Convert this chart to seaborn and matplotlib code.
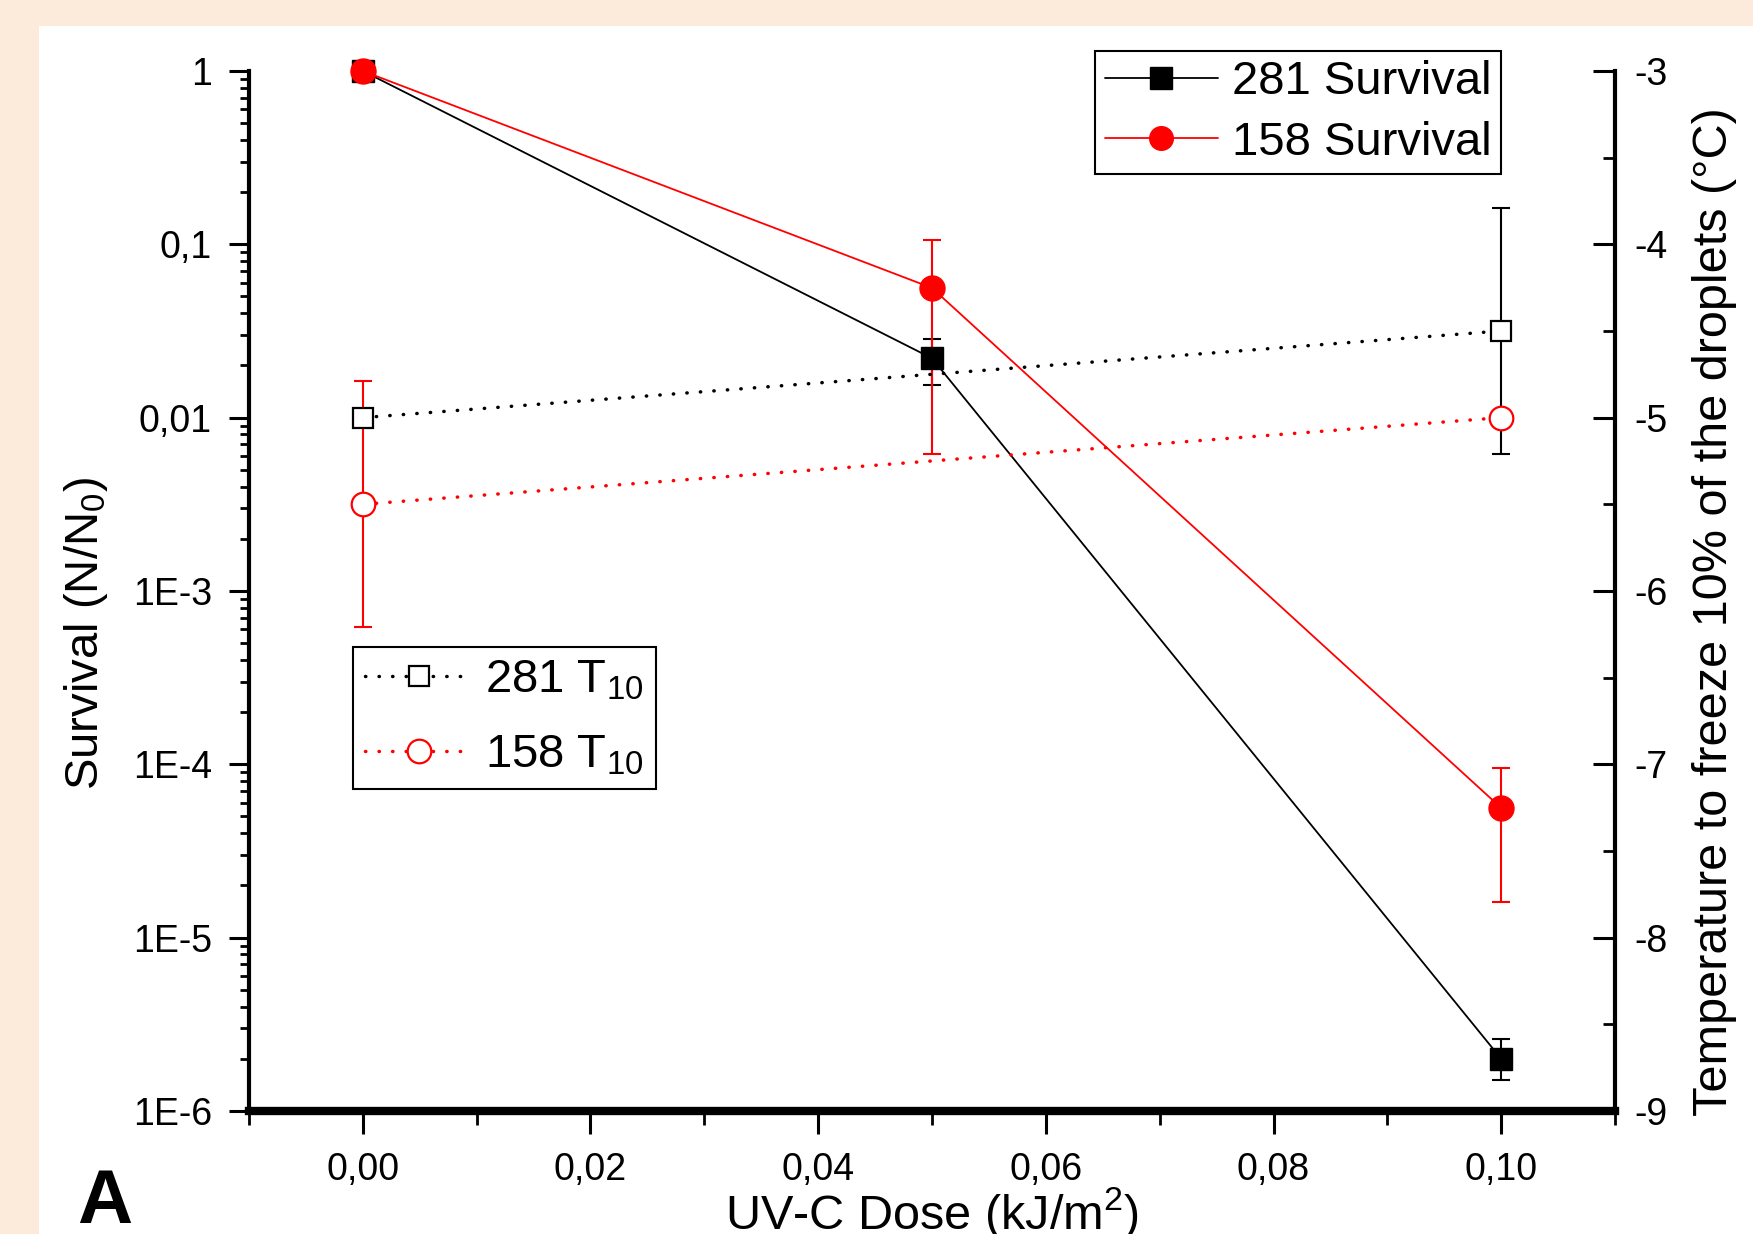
import numpy as np
import matplotlib
matplotlib.use("Agg")
import matplotlib.pyplot as plt
import seaborn as sns
from matplotlib.ticker import FixedLocator, FixedFormatter, LogLocator, NullFormatter, MultipleLocator
from matplotlib.lines import Line2D
from matplotlib.patches import Rectangle

# ---------------- data ----------------
dose = [0.0, 0.05, 0.10]
surv_281 = [1.0, 0.022, 2.0e-6]
surv_281_low = [1.0, 0.0155, 1.5e-6]
surv_281_high = [1.0, 0.0286, 2.6e-6]
surv_158 = [1.0, 0.056, 5.6e-5]
surv_158_low = [1.0, 0.0062, 1.6e-5]
surv_158_high = [1.0, 0.106, 9.5e-5]

t10_dose = [0.0, 0.10]
t10_281 = [-5.0, -4.5]
t10_281_err = [0.0, 0.71]
t10_158 = [-5.5, -5.0]
t10_158_err = [0.71, 0.0]

x_ticks = [0.00, 0.02, 0.04, 0.06, 0.08, 0.10]
x_tick_labels = ["0,00", "0,02", "0,04", "0,06", "0,08", "0,10"]
y_ticks = [1, 0.1, 0.01, 1e-3, 1e-4, 1e-5, 1e-6]
y_tick_labels = ["1", "0,1", "0,01", "1E-3", "1E-4", "1E-5", "1E-6"]
y2_ticks = [-3, -4, -5, -6, -7, -8, -9]
y2_tick_labels = ["-3", "-4", "-5", "-6", "-7", "-8", "-9"]

legend1_labels = ["281 Survival", "158 Survival"]
legend2_labels = ["281 T$_{10}$", "158 T$_{10}$"]

PEACH = "#FCEADA"
RED = "#FF0000"

# ---------------- style ----------------
sns.set_style("ticks")
plt.rcParams["font.family"] = ["Liberation Sans", "DejaVu Sans"]
plt.rcParams["mathtext.fontset"] = "custom"
plt.rcParams["mathtext.rm"] = "Liberation Sans"
plt.rcParams["mathtext.it"] = "Liberation Sans:italic"
plt.rcParams["axes.unicode_minus"] = False
plt.rcParams["text.color"] = "black"
plt.rcParams["axes.edgecolor"] = "black"
plt.rcParams["xtick.color"] = "black"
plt.rcParams["ytick.color"] = "black"
plt.rcParams["axes.labelcolor"] = "black"

fig = plt.figure(figsize=(17.53, 12.34), dpi=100, facecolor=PEACH)
fig.add_artist(Rectangle((0.0222, 0.0), 1.0, 0.979, transform=fig.transFigure,
                         facecolor="white", edgecolor="none", zorder=-10))

ax = fig.add_axes([0.1420, 0.0997, 0.9213 - 0.1420, 0.9425 - 0.0997])
ax.set_facecolor("white")

# ---- survival lines (left log axis) ----
sns.lineplot(x=dose, y=surv_281, ax=ax, color="black", marker="s", markersize=16,
             markerfacecolor="black", markeredgecolor="black", markeredgewidth=1,
             linewidth=1.3, legend=False, clip_on=False, zorder=3)
err_lo = np.subtract(surv_281, surv_281_low)
err_hi = np.subtract(surv_281_high, surv_281)
idx = [i for i in range(len(dose)) if err_lo[i] > 0 or err_hi[i] > 0]
ax.errorbar([dose[i] for i in idx], [surv_281[i] for i in idx],
            yerr=[[err_lo[i] for i in idx], [err_hi[i] for i in idx]],
            fmt="none", ecolor="black", elinewidth=1.5, capsize=6.8, capthick=1.5, zorder=2)

sns.lineplot(x=dose, y=surv_158, ax=ax, color=RED, marker="o", markersize=18,
             markerfacecolor=RED, markeredgecolor=RED, markeredgewidth=1,
             linewidth=1.3, legend=False, clip_on=False, zorder=4)
err_lo = np.subtract(surv_158, surv_158_low)
err_hi = np.subtract(surv_158_high, surv_158)
idx = [i for i in range(len(dose)) if err_lo[i] > 0 or err_hi[i] > 0]
ax.errorbar([dose[i] for i in idx], [surv_158[i] for i in idx],
            yerr=[[err_lo[i] for i in idx], [err_hi[i] for i in idx]],
            fmt="none", ecolor=RED, elinewidth=1.5, capsize=6.8, capthick=1.5, zorder=2)

ax.set_yscale("log")
ax.set_ylim(1e-6, 1)
ax.set_xlim(-0.01, 0.11)
ax.yaxis.set_major_locator(FixedLocator(y_ticks))
ax.yaxis.set_major_formatter(FixedFormatter(y_tick_labels))
ax.yaxis.set_minor_locator(LogLocator(base=10, subs=np.arange(2, 10)))
ax.yaxis.set_minor_formatter(NullFormatter())
ax.xaxis.set_major_locator(FixedLocator(x_ticks))
ax.xaxis.set_major_formatter(FixedFormatter(x_tick_labels))
ax.xaxis.set_minor_locator(MultipleLocator(0.01))

ax.tick_params(axis="y", which="major", direction="out", length=14.5, width=2.2,
               labelsize=27, pad=12)
ax.tick_params(axis="y", which="minor", direction="out", length=6.5, width=2.0)
ax.tick_params(axis="x", which="major", direction="out", length=16.5, width=2.2,
               labelsize=27, pad=13)
ax.tick_params(axis="x", which="minor", direction="out", length=10, width=2.0)

for s in ["top", "right"]:
    ax.spines[s].set_visible(False)
ax.spines["bottom"].set_linewidth(6)
ax.spines["left"].set_linewidth(3)

ax.set_xlabel("UV-C Dose (kJ/m$^2$)", fontsize=35)
ax.xaxis.set_label_coords(0.5, -0.0712)
ax.set_ylabel("Survival (N/N$_0$)", fontsize=34)
ax.yaxis.set_label_coords(-0.1018, 0.4587)

# ---- T10 (right linear axis) ----
ax2 = ax.twinx()
dot_style = (0, (0.1, 3.8))
sns.lineplot(x=t10_dose, y=t10_281, ax=ax2, color="black", marker="s", markersize=15,
             markerfacecolor="white", markeredgecolor="black", markeredgewidth=1.6,
             linewidth=2.5, linestyle=dot_style, dash_capstyle="round",
             legend=False, clip_on=False, zorder=3)
idx = [i for i in range(len(t10_dose)) if t10_281_err[i] > 0]
ax2.errorbar([t10_dose[i] for i in idx], [t10_281[i] for i in idx],
             yerr=[t10_281_err[i] for i in idx],
             fmt="none", ecolor="black", elinewidth=1.5, capsize=6.8, capthick=1.5, zorder=2)

sns.lineplot(x=t10_dose, y=t10_158, ax=ax2, color=RED, marker="o", markersize=17,
             markerfacecolor="white", markeredgecolor=RED, markeredgewidth=1.6,
             linewidth=2.5, linestyle=dot_style, dash_capstyle="round",
             legend=False, clip_on=False, zorder=3)
idx = [i for i in range(len(t10_dose)) if t10_158_err[i] > 0]
ax2.errorbar([t10_dose[i] for i in idx], [t10_158[i] for i in idx],
             yerr=[t10_158_err[i] for i in idx],
             fmt="none", ecolor=RED, elinewidth=1.5, capsize=6.8, capthick=1.5, zorder=2)

ax2.set_ylim(-9, -3)
ax2.yaxis.set_major_locator(FixedLocator(y2_ticks))
ax2.yaxis.set_major_formatter(FixedFormatter(y2_tick_labels))
ax2.yaxis.set_minor_locator(MultipleLocator(0.5))
ax2.tick_params(axis="y", which="major", direction="in", length=15.5, width=2.2,
                labelsize=27, pad=14)
ax2.tick_params(axis="y", which="minor", direction="in", length=9, width=2.0)
for s in ["top", "left", "bottom"]:
    ax2.spines[s].set_visible(False)
ax2.spines["right"].set_linewidth(3)
ax2.set_ylabel("Temperature to freeze 10% of the droplets (°C)", fontsize=35)
ax2.yaxis.set_label_coords(1.0564, 0.48)

# ---- legends ----
h1 = Line2D([], [], color="black", marker="s", markersize=16, markerfacecolor="black",
            markeredgecolor="black", linewidth=1.3)
h2 = Line2D([], [], color=RED, marker="o", markersize=17, markerfacecolor=RED,
            markeredgecolor=RED, linewidth=1.3)
leg1 = ax2.legend(handles=[h1, h2], labels=legend1_labels, loc="upper right",
                  bbox_to_anchor=(0.8563, 0.9587), bbox_transform=fig.transFigure,
                  fontsize=34, frameon=True, fancybox=False, edgecolor="black",
                  framealpha=1, handlelength=2.4, handletextpad=0.3,
                  borderpad=0.2, labelspacing=0.35, borderaxespad=0)
leg1.get_frame().set_linewidth(1.5)
ax2.add_artist(leg1)

h3 = Line2D([], [], color="black", marker="s", markersize=15, markerfacecolor="white",
            markeredgecolor="black", markeredgewidth=1.6, linewidth=2.5,
            linestyle=dot_style, dash_capstyle="round")
h4 = Line2D([], [], color=RED, marker="o", markersize=17, markerfacecolor="white",
            markeredgecolor=RED, markeredgewidth=1.6, linewidth=2.5,
            linestyle=dot_style, dash_capstyle="round")
leg2 = ax2.legend(handles=[h3, h4], labels=legend2_labels, loc="upper left",
                  bbox_to_anchor=(0.2014, 0.4757), bbox_transform=fig.transFigure,
                  fontsize=34, frameon=True, fancybox=False, edgecolor="black",
                  framealpha=1, handlelength=2.3, handletextpad=0.25,
                  borderpad=0.25, labelspacing=0.65, borderaxespad=0)
leg2.get_frame().set_linewidth(1.5)

fig.text(0.0439, 0.0089, "A", fontsize=55, fontweight="bold", ha="left", va="baseline")

fig.savefig("out.png", dpi=100, facecolor=PEACH)
